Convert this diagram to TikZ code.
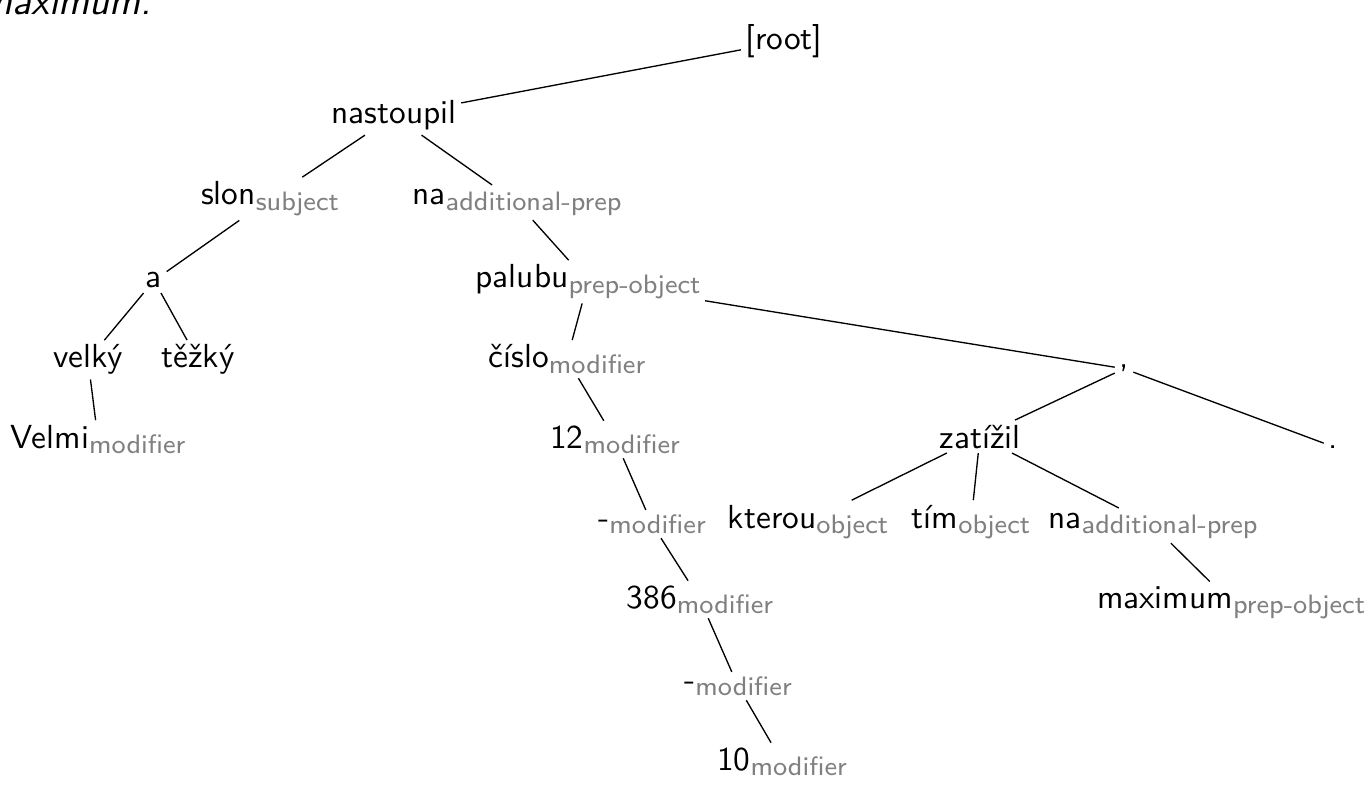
\documentclass[tikz,border=0pt]{standalone}
\usepackage{fontspec}
\usepackage{xcolor}
\usepackage{tikz}

% word with its grey relation label
\newcommand{\dep}[2]{#1\raisebox{-1.6pt}{\footnotesize\color{gray}#2}}

\begin{document}
\begin{tikzpicture}[x=0.3pt,y=-0.3pt,font=\sffamily,
  word/.style={anchor=base,inner sep=1.2pt}]

% Canvas
\clip (0,0) rectangle (1365,785);

% Caption remnant
\node[anchor=base east,font=\sffamily\itshape\large] (caption) at (163,15) {maximum.};

% Words
\node[word] (root) at (784,50) {[root]};
\node[word] (nastoupil) at (394,124) {nastoupil};
\node[word] (slon) at (270,205) {\dep{slon}{subject}};
\node[word] (naA) at (517,205) {\dep{na}{additional-prep}};
\node[word] (a) at (154,288) {a};
\node[word] (palubu) at (588,288) {\dep{palubu}{prep-object}};
\node[word] (velky) at (88,368) {velký};
\node[word] (tezky) at (198,368) {těžký};
\node[word] (cislo) at (567,368) {\dep{číslo}{modifier}};
\node[word] (comma) at (1124,368) {,};
\node[word] (velmi) at (98,448) {\dep{Velmi}{modifier}};
\node[word] (twelve) at (615,448) {\dep{12}{modifier}};
\node[word] (zatizil) at (980,448) {zatížil};
\node[word] (period) at (1333,448) {.};
\node[word] (dashA) at (652,528) {\dep{-}{modifier}};
\node[word] (kterou) at (808,528) {\dep{kterou}{object}};
\node[word] (tim) at (971,528) {\dep{tím}{object}};
\node[word] (naB) at (1153,528) {\dep{na}{additional-prep}};
\node[word] (threeeightsix) at (700,608) {\dep{386}{modifier}};
\node[word] (maximum) at (1231,608) {\dep{maximum}{prep-object}};
\node[word] (dashB) at (738,690) {\dep{-}{modifier}};
\node[word] (ten) at (782,770) {\dep{10}{modifier}};

% Edges
\draw (root) -- (nastoupil);
\draw (nastoupil) -- (slon);
\draw (nastoupil) -- (naA);
\draw (slon) -- (a);
\draw (a) -- (velky);
\draw (a) -- (tezky);
\draw (velky) -- (velmi);
\draw (naA) -- (palubu);
\draw (palubu) -- (cislo);
\draw (palubu) -- (comma);
\draw (cislo) -- (twelve);
\draw (twelve) -- (dashA);
\draw (dashA) -- (threeeightsix);
\draw (threeeightsix) -- (dashB);
\draw (dashB) -- (ten);
\draw (comma) -- (zatizil);
\draw (comma) -- (period);
\draw (zatizil) -- (kterou);
\draw (zatizil) -- (tim);
\draw (zatizil) -- (naB);
\draw (naB) -- (maximum);

\end{tikzpicture}
\end{document}
